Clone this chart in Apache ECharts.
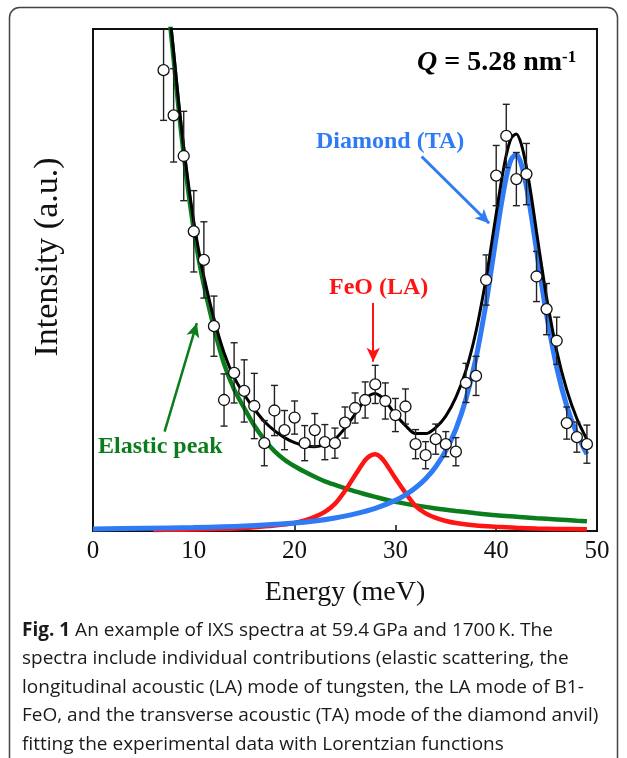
<!DOCTYPE html>
<html>
<head>
<meta charset="utf-8">
<script src="https://cdn.jsdelivr.net/npm/echarts@6/dist/echarts.min.js"></script>
<style>
  html, body { margin: 0; padding: 0; background: #fff; }
  #chart { width: 627px; height: 758px; }
</style>
</head>
<body>
<div id="chart"></div>
<script>
// Measured IXS spectrum (energy transfer in meV, intensity in arbitrary units)
const energy = [7, 8, 9, 10, 11, 12, 13, 14, 15, 16, 17, 18, 19, 20, 21, 22, 23, 24, 25, 26, 27, 28,
  29, 30, 31, 32, 33, 34, 35, 36, 37, 38, 39, 40, 41, 42, 43, 44, 45, 46, 47, 48, 49];
const intensity = [91.8, 82.8, 74.7, 59.7, 54.0, 40.8, 26.1, 31.5, 27.9, 24.9, 17.5, 24.0, 20.1, 22.6,
  17.5, 20.1, 17.7, 17.5, 21.6, 24.5, 26.1, 29.2, 25.9, 23.1, 24.8, 17.3, 15.1, 18.3, 17.3, 15.8,
  29.5, 30.9, 50.0, 70.8, 78.7, 70.1, 71.1, 50.7, 44.2, 37.9, 21.5, 18.7, 17.3];
const sigma = [10, 9.3, 8.9, 8.1, 7.6, 6.0, 5.2, 6.0, 6.2, 6.5, 4.5, 5.0, 3.9, 3.3, 3.5, 3.3, 3.5, 3.0,
  3.1, 3.0, 3.6, 3.8, 3.6, 3.3, 3.5, 2.9, 2.7, 3.0, 2.5, 2.8, 3.9, 3.9, 5.0, 6.0, 6.3, 5.3, 6.1, 5.0,
  5.1, 4.7, 3.2, 3.0, 3.8];

// Fitted components
const elasticE = [7.6, 8, 8.5, 9, 9.5, 10, 10.5, 11, 12, 13, 14, 15, 16, 17, 18, 19, 20, 21, 22, 23,
  24, 26, 28, 30, 32, 34, 36, 38, 40, 42, 44, 46, 48, 49];
const elasticI = [102, 94, 84, 75, 67, 60, 54, 49, 40.5, 33.3, 28.2, 24.5, 21.0, 18.2, 15.9, 14.2,
  12.9, 11.8, 10.8, 9.9, 9.2, 7.9, 6.8, 5.8, 5.1, 4.5, 4.0, 3.55, 3.15, 2.85, 2.55, 2.3, 2.05, 1.95];

const feoE = [6, 8, 10, 12, 14, 16, 18, 20, 21, 22, 23, 24, 25, 26, 27, 27.5, 28, 28.5, 29, 30, 31,
  32, 33, 34, 35, 36, 38, 40, 42, 44, 46, 49];
const feoI = [0.2, 0.25, 0.3, 0.4, 0.5, 0.75, 1.1, 1.6, 2.1, 2.8, 3.8, 5.4, 8.0, 11.1, 14.1, 15.0,
  15.3, 14.8, 13.6, 10.5, 7.6, 5.0, 3.5, 2.6, 2.0, 1.6, 1.1, 0.85, 0.65, 0.5, 0.42, 0.35];

const diamondE = [0, 5, 10, 15, 20, 22, 24, 26, 28, 30, 31, 32, 33, 34, 35, 36, 37, 38, 39, 39.5, 40,
  40.5, 41, 41.5, 42, 42.5, 43, 43.5, 44, 44.5, 45, 46, 47, 48, 49];
const diamondI = [0.4, 0.55, 0.7, 1.0, 1.6, 2.0, 2.6, 3.4, 4.5, 6.1, 7.2, 8.6, 10.4, 12.8, 16.0, 20.3,
  26.3, 34.5, 45.4, 51.9, 58.6, 65.0, 70.5, 74.1, 75.0, 73.0, 68.6, 62.6, 55.9, 49.3, 43.0, 32.6,
  24.9, 19.4, 15.3];

const totalE = [7.6, 8, 8.5, 9, 9.5, 10, 10.5, 11, 12, 13, 14, 15, 16, 17, 18, 19, 20, 21, 22, 23, 24,
  25, 26, 27, 27.5, 28, 28.5, 29, 30, 31, 32, 33, 34, 35, 36, 37, 38, 39, 39.5, 40, 40.5, 41, 41.5,
  42, 42.5, 43, 43.5, 44, 44.5, 45, 46, 47, 48, 49];
const totalI = [103, 95.5, 85.3, 76.5, 68.6, 61.6, 55.7, 50.7, 42.3, 35.5, 30.6, 27.2, 24.3, 21.8,
  20.0, 18.6, 17.6, 17.0, 16.8, 17.2, 18.3, 20.5, 23.3, 26.2, 27.1, 27.4, 26.9, 25.9, 23.2, 21.0,
  19.4, 19.4, 20.6, 22.9, 26.6, 32.0, 39.8, 50.3, 56.7, 63.2, 69.5, 74.9, 78.3, 79.1, 77.0, 72.5,
  66.5, 59.6, 52.9, 46.5, 35.9, 28.1, 22.4, 18.2];

const xTicks = [0, 10, 20, 30, 40, 50];

const SERIF = '"Liberation Serif", "Times New Roman", serif';
const SANS = '"Open Sans", "Noto Sans", sans-serif';
const GREEN = '#0b7d1c';
const RED = '#ff1414';
const BLUE = '#2f7bf5';

const pairs = (xs, ys) => xs.map((x, i) => [x, ys[i]]);
const bars = energy.map((e, i) => [e, intensity[i] - sigma[i], intensity[i] + sigma[i]]);

const chart = echarts.init(document.getElementById('chart'), null, { renderer: 'canvas' });

function errorBar(params, api) {
  const x = api.value(0);
  const lo = api.coord([x, api.value(1)]);
  const hi = api.coord([x, api.value(2)]);
  const w = 3.5;
  const style = { stroke: '#222', lineWidth: 1.4, fill: null };
  return {
    type: 'group',
    children: [
      { type: 'line', shape: { x1: lo[0], y1: lo[1], x2: hi[0], y2: hi[1] }, style },
      { type: 'line', shape: { x1: lo[0] - w, y1: lo[1], x2: lo[0] + w, y2: lo[1] }, style },
      { type: 'line', shape: { x1: hi[0] - w, y1: hi[1], x2: hi[0] + w, y2: hi[1] }, style }
    ]
  };
}

function arrow(from, to, color, width) {
  return {
    silent: true,
    symbol: ['none', 'arrow'],
    symbolSize: [10, 14],
    label: { show: false },
    lineStyle: { color, width, type: 'solid' },
    data: [[{ coord: from }, { coord: to }]]
  };
}

chart.setOption({
  animation: false,
  backgroundColor: '#fff',
  grid: { left: 93, right: 30, top: 29, bottom: 227, show: true, borderColor: '#111', borderWidth: 2 },
  xAxis: {
    type: 'value', min: xTicks[0], max: xTicks[xTicks.length - 1], interval: 10,
    axisLine: { show: false },
    axisTick: { show: true, inside: true, length: 6, lineStyle: { color: '#111', width: 1.5 } },
    splitLine: { show: false },
    axisLabel: { fontFamily: SERIF, fontSize: 25, color: '#111', margin: 8 },
    name: 'Energy (meV)', nameLocation: 'middle', nameGap: 48,
    nameTextStyle: { fontFamily: SERIF, fontSize: 28, color: '#111' }
  },
  yAxis: {
    type: 'value', min: 0, max: 100,
    axisLine: { show: false }, axisTick: { show: false }, axisLabel: { show: false },
    splitLine: { show: false }
  },
  series: [
    {
      name: 'Elastic', type: 'line', data: pairs(elasticE, elasticI), smooth: 0.3, showSymbol: false,
      lineStyle: { color: GREEN, width: 4.5 }, z: 2,
      markLine: arrow([7.1, 19.8], [10.3, 41.4], GREEN, 2.5)
    },
    {
      name: 'FeO (LA)', type: 'line', data: pairs(feoE, feoI), smooth: 0.3, showSymbol: false,
      lineStyle: { color: RED, width: 4.5 }, z: 2,
      markLine: arrow([27.8, 45.4], [27.8, 33.7], RED, 2)
    },
    {
      name: 'Diamond (TA)', type: 'line', data: pairs(diamondE, diamondI), smooth: 0.3, showSymbol: false,
      lineStyle: { color: BLUE, width: 5 }, z: 2,
      markLine: arrow([32.6, 74.6], [39.3, 61.3], BLUE, 3)
    },
    {
      name: 'Fit', type: 'line', data: pairs(totalE, totalI), smooth: 0.3, showSymbol: false,
      lineStyle: { color: '#000', width: 3 }, z: 3
    },
    {
      name: 'Error', type: 'custom', data: bars, renderItem: errorBar, clip: true, z: 4,
      encode: { x: 0, y: [1, 2] }
    },
    {
      name: 'Data', type: 'scatter', data: pairs(energy, intensity), symbol: 'circle', symbolSize: 11,
      itemStyle: { color: '#fff', borderColor: '#111', borderWidth: 1.3, opacity: 1 }, z: 5
    }
  ],
  graphic: [
    {
      type: 'rect', silent: true, z: -1,
      shape: { x: 9.5, y: 7.5, width: 608, height: 770, r: 10 },
      style: { fill: null, stroke: '#444', lineWidth: 1.5 }
    },
    {
      // vertical axis title
      type: 'text', silent: true, x: 48, y: 257, rotation: Math.PI / 2,
      style: { text: 'Intensity (a.u.)', fill: '#111', font: '34px ' + SERIF, align: 'center', verticalAlign: 'middle', textAlign: 'center', textVerticalAlign: 'middle' }
    },
    {
      type: 'text', silent: true, x: 417, y: 49,
      style: {
        text: '{q|Q} = 5.28 nm{s|-1}', fill: '#000', font: 'bold 28px ' + SERIF,
        rich: {
          q: { fontStyle: 'italic', fontWeight: 'bold', fontSize: 28, fontFamily: SERIF, fill: '#000' },
          s: { fontWeight: 'bold', fontSize: 17, fontFamily: SERIF, fill: '#000', verticalAlign: 'top' }
        }
      }
    },
    {
      type: 'text', silent: true, x: 316, y: 130,
      style: { text: 'Diamond (TA)', fill: BLUE, font: 'bold 24px ' + SERIF }
    },
    {
      type: 'text', silent: true, x: 329, y: 276,
      style: { text: 'FeO (LA)', fill: RED, font: 'bold 24px ' + SERIF }
    },
    {
      type: 'text', silent: true, x: 98, y: 435,
      style: { text: 'Elastic peak', fill: GREEN, font: 'bold 24px ' + SERIF }
    },
    {
      type: 'text', silent: true, x: 22, y: 616,
      style: {
        text: '{b|Fig. 1} An example of IXS spectra at 59.4\u2009GPa and 1700\u2009K. The\n' +
          'spectra include individual contributions (elastic scattering, the\n' +
          'longitudinal acoustic (LA) mode of tungsten, the LA mode of B1-\n' +
          'FeO, and the transverse acoustic (TA) mode of the diamond anvil)\n' +
          'fitting the experimental data with Lorentzian functions',
        fill: '#1a1a1a', font: '19px ' + SANS, lineHeight: 28.5,
        rich: {
          b: { fontWeight: 'bold', fontSize: 19, fontFamily: SANS, fill: '#1a1a1a', lineHeight: 28.5 }
        }
      }
    }
  ]
});
</script>
</body>
</html>
